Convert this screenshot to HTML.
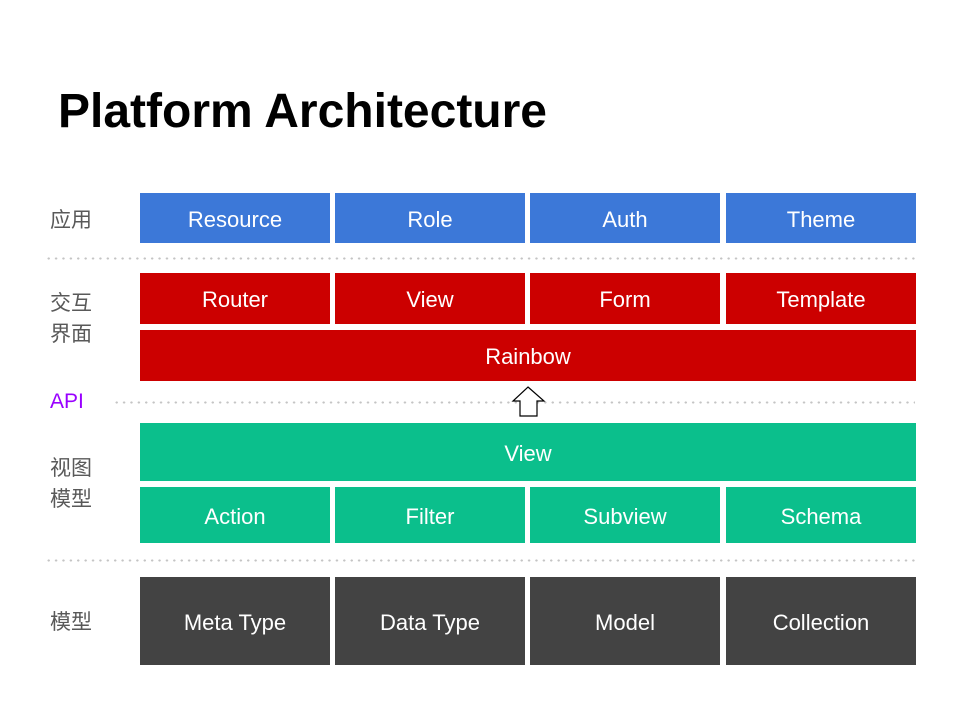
<!DOCTYPE html>
<html><head><meta charset="utf-8"><style>
body{margin:0;width:960px;height:720px;background:#fff;position:relative;overflow:hidden;font-family:"Liberation Sans","Noto Sans CJK SC",sans-serif}
.t{position:absolute;left:58px;top:84px;font-size:48px;font-weight:bold;color:#000}
.b{position:absolute;color:#fff;font-size:22px;display:flex;align-items:center;justify-content:center;box-sizing:border-box;padding-top:3px}
.bl{background:#3c78d8}.r{background:#cc0000}.g{background:#0bbf8c}.d{background:#434343}
.l{position:absolute;left:50px;color:#595959;font-size:21px;line-height:31px}
.dot{position:absolute;height:3px;background-image:radial-gradient(circle,#c4c4c4 1px,transparent 1.3px);background-size:7.4px 3px}
</style></head><body>
<div class="t">Platform Architecture</div>
<div class="l" style="top:205px">应用</div>
<div class="l" style="top:288px">交互<br>界面</div>
<div class="l" style="top:386px;color:#9900ff">API</div>
<div class="l" style="top:453px">视图<br>模型</div>
<div class="l" style="top:607px">模型</div>
<div class="dot" style="left:45px;width:872px;top:257px"></div>
<div class="dot" style="left:113px;width:802px;top:401px"></div>
<div class="dot" style="left:45px;width:872px;top:559px"></div>
<div class="b bl" style="left:140px;top:193px;width:190px;height:50px">Resource</div>
<div class="b bl" style="left:335px;top:193px;width:190px;height:50px">Role</div>
<div class="b bl" style="left:530px;top:193px;width:190px;height:50px">Auth</div>
<div class="b bl" style="left:726px;top:193px;width:190px;height:50px">Theme</div>
<div class="b r" style="left:140px;top:273px;width:190px;height:51px">Router</div>
<div class="b r" style="left:335px;top:273px;width:190px;height:51px">View</div>
<div class="b r" style="left:530px;top:273px;width:190px;height:51px">Form</div>
<div class="b r" style="left:726px;top:273px;width:190px;height:51px">Template</div>
<div class="b r" style="left:140px;top:330px;width:776px;height:51px">Rainbow</div>
<div class="b g" style="left:140px;top:423px;width:776px;height:58px">View</div>
<div class="b g" style="left:140px;top:487px;width:190px;height:56px">Action</div>
<div class="b g" style="left:335px;top:487px;width:190px;height:56px">Filter</div>
<div class="b g" style="left:530px;top:487px;width:190px;height:56px">Subview</div>
<div class="b g" style="left:726px;top:487px;width:190px;height:56px">Schema</div>
<div class="b d" style="left:140px;top:577px;width:190px;height:88px">Meta Type</div>
<div class="b d" style="left:335px;top:577px;width:190px;height:88px">Data Type</div>
<div class="b d" style="left:530px;top:577px;width:190px;height:88px">Model</div>
<div class="b d" style="left:726px;top:577px;width:190px;height:88px">Collection</div>
<svg style="position:absolute;left:0;top:0" width="960" height="720"><polygon points="528,387 544,401 537,401 537,416 520,416 520,401 513,401" fill="#fff" stroke="#000" stroke-width="1.2"/></svg>
</body></html>
